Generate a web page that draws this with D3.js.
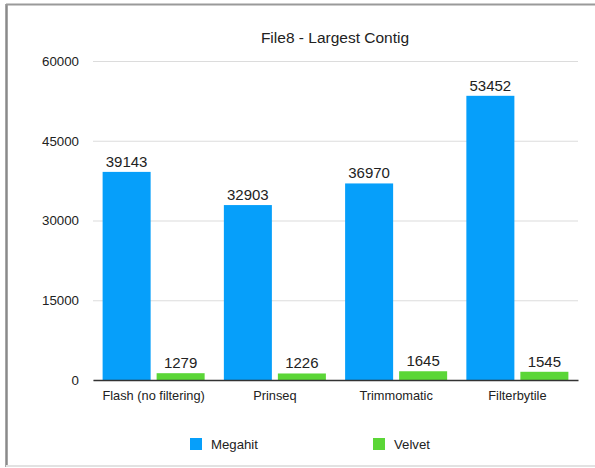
<!DOCTYPE html>
<html>
<head>
<meta charset="utf-8">
<script src="https://cdn.jsdelivr.net/npm/d3@7"></script>
<style>
  html, body { margin: 0; padding: 0; background: #fff; }
  svg { display: block; font-family: "Liberation Sans", Arial, Helvetica, sans-serif; }
</style>
</head>
<body>
<svg id="chart" width="595" height="468"></svg>
<script>
// Largest contig per filtering method, for each assembler
const categories = ["Flash (no filtering)", "Prinseq", "Trimmomatic", "Filterbytile"];
const seriesNames = ["Megahit", "Velvet"];
const megahit = [39143, 32903, 36970, 53452];
const velvet = [1279, 1226, 1645, 1545];
const yTicks = [0, 15000, 30000, 45000, 60000];
const colors = ["#069ffa", "#5bd637"];
const title = "File8 - Largest Contig";

const values = [megahit, velvet];
const rows = categories.map((c, i) => ({
  category: c,
  bars: seriesNames.map((s, j) => ({ series: s, value: values[j][i], color: colors[j] }))
}));

const svg = d3.select("#chart");
const W = 595, H = 468;
const plot = { left: 93, right: 578, top: 61, bottom: 380 };

// Frame around the chart
svg.append("rect").attr("x", 0).attr("y", 0).attr("width", W).attr("height", H).attr("fill", "#fff");
svg.append("line").attr("x1", 6.5).attr("x2", 6.5).attr("y1", 4).attr("y2", 467)
  .attr("stroke", "#8a8a8a").attr("stroke-width", 2.5);
svg.append("line").attr("x1", 6).attr("x2", W).attr("y1", 4.5).attr("y2", 4.5)
  .attr("stroke", "#9a9a9a").attr("stroke-width", 2);
svg.append("line").attr("x1", 6).attr("x2", W).attr("y1", 466).attr("y2", 466)
  .attr("stroke", "#e2e2e2").attr("stroke-width", 2);

const x0 = d3.scaleBand().domain(categories).range([plot.left, plot.right]).paddingInner(0).paddingOuter(0);
const x1 = d3.scaleBand().domain(seriesNames).range([0, x0.bandwidth()]).paddingInner(0.111).paddingOuter(0.178);
const y = d3.scaleLinear().domain([0, 60000]).range([plot.bottom, plot.top]);

// Title
svg.append("text").attr("x", 335).attr("y", 43).attr("text-anchor", "middle")
  .attr("font-size", 15.5).attr("fill", "#222").text(title);

// Horizontal gridlines and tick labels
const yAxis = d3.axisLeft(y).tickValues(yTicks).tickSize(-(plot.right - plot.left)).tickPadding(14)
  .tickFormat(d3.format("d"));
const gy = svg.append("g").attr("transform", `translate(${plot.left},0)`).call(yAxis);
gy.select(".domain").remove();
gy.selectAll(".tick line").attr("stroke", "#dcdcdc").attr("stroke-width", 1.2);
gy.selectAll(".tick text").attr("font-size", 13.3).attr("fill", "#222")
  .attr("font-family", "Liberation Sans, Arial, sans-serif");

// Bars
const groups = svg.selectAll("g.group").data(rows).join("g").attr("class", "group")
  .attr("transform", d => `translate(${x0(d.category)},0)`);
groups.selectAll("rect").data(d => d.bars).join("rect")
  .attr("x", d => x1(d.series)).attr("width", x1.bandwidth())
  .attr("y", d => y(d.value)).attr("height", d => y(0) - y(d.value))
  .attr("fill", d => d.color);
groups.selectAll("text.val").data(d => d.bars).join("text").attr("class", "val")
  .attr("x", d => x1(d.series) + x1.bandwidth() / 2).attr("y", d => y(d.value) - 5)
  .attr("text-anchor", "middle").attr("font-size", 15).attr("fill", "#222")
  .text(d => d.value);

// Baseline and category labels
const xAxis = d3.axisBottom(x0).tickSize(0).tickPadding(11);
const gx = svg.append("g").attr("transform", `translate(0,${plot.bottom})`).call(xAxis);
gx.select(".domain").attr("stroke", "#333").attr("stroke-width", 1.6);
gx.selectAll(".tick text").attr("font-size", 12.8).attr("fill", "#222")
  .attr("font-family", "Liberation Sans, Arial, sans-serif");

// Legend
const legendX = [190, 373];
const legend = svg.selectAll("g.legend").data(seriesNames).join("g").attr("class", "legend")
  .attr("transform", (d, i) => `translate(${legendX[i]},438)`);
legend.append("rect").attr("width", 12).attr("height", 12).attr("fill", (d, i) => colors[i]);
legend.append("text").attr("x", 21).attr("y", 11).attr("font-size", 13.2).attr("fill", "#222").text(d => d);
</script>
</body>
</html>
